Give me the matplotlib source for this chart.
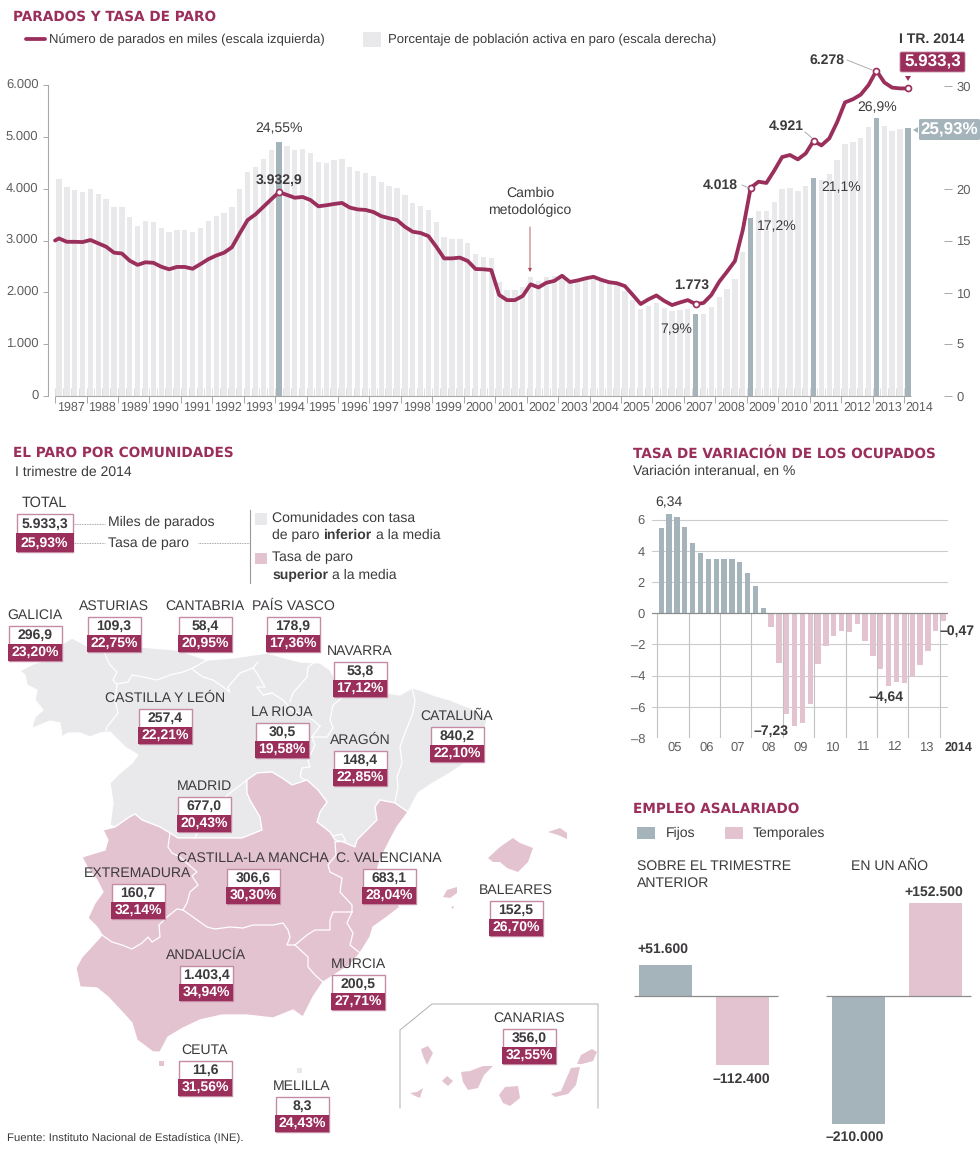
import matplotlib
matplotlib.use("Agg")
import matplotlib.pyplot as plt
from matplotlib.patches import Polygon, Rectangle, FancyBboxPatch
from matplotlib.transforms import ScaledTranslation

plt.rcParams['font.family'] = ['Liberation Sans', 'DejaVu Sans']
plt.rcParams['text.hinting'] = 'no_hinting'
plt.rcParams['text.hinting_factor'] = 8

# ---------- colours ----------
MAGENTA = '#9a2f5c'
PINK = '#e4c3d0'
GREY = '#e9e9eb'
SLATE = '#a5b4bb'
TEXT = '#3d3a3d'
TICK = '#5f5f5f'
RULE = '#a8a8a8'
TITLE_FONT = ['DejaVu Sans']

# ---------- data: paro trimestral 1987-I .. 2014-I ----------
tasa = [21.0, 20.2, 19.9, 19.7, 20.0, 19.6, 19.1, 18.3, 18.3, 17.3, 16.5, 16.9,
        16.8, 16.3, 15.9, 16.1, 16.1, 15.9, 16.3, 16.9, 17.4, 17.7, 18.3, 20.0,
        21.7, 22.2, 22.9, 23.8, 24.55, 24.2, 23.8, 23.9, 23.5, 22.7, 22.6, 22.8,
        22.9, 22.2, 21.8, 21.6, 21.3, 20.7, 20.3, 20.1, 19.5, 18.7, 18.4, 18.0,
        16.8, 15.4, 15.2, 15.2, 14.8, 13.7, 13.5, 13.4, 11.0, 10.3, 10.3, 10.6,
        11.5, 11.1, 11.5, 11.6, 11.7, 11.0, 11.1, 11.3, 11.5, 11.1, 10.9, 10.7,
        10.2, 9.3, 8.4, 8.7, 9.0, 8.5, 8.2, 8.3, 8.4, 7.9, 7.95, 8.6,
        9.6, 10.4, 11.3, 13.9, 17.2, 17.9, 17.9, 18.8, 20.0, 20.1, 19.8, 20.3,
        21.1, 20.9, 21.5, 22.8, 24.4, 24.6, 25.0, 26.0, 26.9, 26.1, 25.7, 25.8,
        25.93]
parados = [3040, 2975, 2975, 2970, 3010, 2945, 2880, 2765, 2750, 2610, 2530, 2580,
           2570, 2495, 2445, 2490, 2490, 2455, 2545, 2640, 2710, 2765, 2870, 3140,
           3395, 3505, 3650, 3795, 3932.9, 3880, 3825, 3840, 3780, 3660, 3680, 3705,
           3725, 3635, 3600, 3590, 3550, 3470, 3430, 3395, 3265, 3170, 3145, 3085,
           2880, 2655, 2655, 2670, 2605, 2450, 2445, 2430, 1950, 1850, 1850, 1930,
           2155, 2095, 2185, 2220, 2320, 2200, 2230, 2270, 2300, 2240, 2195, 2175,
           2120, 1950, 1775, 1865, 1940, 1835, 1755, 1805, 1850, 1773, 1795, 1950,
           2205, 2400, 2605, 3205, 4018, 4135, 4110, 4350, 4610, 4650, 4565, 4680,
           4921, 4835, 4970, 5285, 5665, 5725, 5815, 6000, 6278, 6050, 5950, 5935,
           5933.3]
destacados = [28, 81, 88, 96, 104, 108]
puntos = [28, 81, 88, 96, 104, 108]
years = [str(y) for y in range(1987, 2015)]
left_ticks = [0, 1000, 2000, 3000, 4000, 5000, 6000]
left_labels = ['0', '1.000', '2.000', '3.000', '4.000', '5.000', '6.000']
right_ticks = [0, 5, 10, 15, 20, 25, 30]
right_tick_labels = ['0', '5', '10', '15', '20', '', '30']

# ---------- data: ocupados ----------
variacion = [5.43, 6.34, 6.17, 5.5, 4.5, 3.83, 3.45, 3.5, 3.5, 3.47, 3.3, 2.6, 1.75, 0.34,
             -0.91, -3.2, -6.45, -7.23, -7.06, -5.79, -3.26, -2.09, -1.45, -1.11, -1.21,
             -0.68, -1.77, -2.77, -3.57, -4.64, -4.40, -4.47, -4.11, -3.34, -2.45, -1.17, -0.47]
var_years = ['05', '06', '07', '08', '09', '10', '11', '12', '13']
var_ticks = [-8, -6, -4, -2, 0, 2, 4, 6]
var_labels = ['–8', '–6', '–4', '–2', '0', '2', '4', '6']

# ---------- data: asalariados ----------
empleo_trim = [51600, -112400]
empleo_anual = [-210000, 152500]

# ---------- data: comunidades ----------
comunidades = ['GALICIA', 'ASTURIAS', 'CANTABRIA', 'PAÍS VASCO', 'NAVARRA', 'CASTILLA Y LEÓN',
               'LA RIOJA', 'ARAGÓN', 'CATALUÑA', 'MADRID', 'EXTREMADURA', 'CASTILLA-LA MANCHA',
               'C. VALENCIANA', 'BALEARES', 'MURCIA', 'ANDALUCÍA', 'CEUTA', 'MELILLA', 'CANARIAS']
miles = [296.9, 109.3, 58.4, 178.9, 53.8, 257.4, 30.5, 148.4, 840.2, 677.0, 160.7, 306.6,
         683.1, 152.5, 200.5, 1403.4, 11.6, 8.3, 356.0]
tasas = [23.20, 22.75, 20.95, 17.36, 17.12, 22.21, 19.58, 22.85, 22.10, 20.43, 32.14, 30.30,
         28.04, 26.70, 27.71, 34.94, 31.56, 24.43, 32.55]

# label placement in figure pixels (centre x, box top y)
box_x = [35, 114, 205, 293, 360, 165, 282, 360, 457, 204, 138, 253, 389, 516, 358, 206, 205, 302, 529]
box_y = [626, 617, 617, 617, 662, 709, 723, 751, 727, 797, 884, 869, 869, 901, 975, 966, 1061, 1097, 1029]

# ---------- map outlines (figure pixels) ----------
GREY_LAND = [(20,671),(33,664),(47,660),(62,644),(72,638),(85,645),(104,651),(140,647),(177,650),
    (207,660),(233,658),(267,653),(300,662),(320,663),(330,670),(336,680),(343,697),(353,695),(367,695),
    (387,693),(400,695),(412,688),(420,690),(433,695),(450,700),(470,708),(487,718),(484,735),(478,750),
    (465,763),(450,773),(433,783),(418,793),(408,812),(395,803),(380,800),(375,807),(377,820),(367,830),
    (357,840),(355,847),(343,842),(335,840),(330,832),(317,822),(320,812),(327,802),(318,790),(307,780),
    (292,785),(282,778),(272,772),(257,773),(247,780),(247,793),(250,800),(260,817),(262,830),(242,838),
    (178,838),(170,833),(160,827),(142,820),(135,814),(128,818),(115,827),(110,825),(113,803),(110,783),
    (120,773),(132,763),(138,755),(125,747),(110,732),(100,733),(90,737),(80,733),(68,733),(62,737),
    (60,723),(50,721),(33,728),(32,727),(35,717),(43,710),(35,700),(37,690),(27,685),(25,675)]
PINK_LAND = [(103,830),(115,827),(128,818),(135,814),(142,820),(160,827),(170,833),(178,838),(242,838),
    (262,830),(260,817),(250,800),(247,793),(247,780),(257,773),(272,772),(282,778),(292,785),(307,780),
    (318,790),(327,802),(320,812),(317,822),(330,832),(335,840),(343,842),(355,847),(357,840),(367,830),
    (377,820),(375,807),(380,800),(395,803),(408,812),(397,827),(390,840),(380,860),(375,878),(390,895),
    (400,907),(387,917),(373,927),(370,937),(360,953),(350,965),(323,982),(313,997),(303,1017),(293,1010),
    (273,1018),(247,1015),(222,1015),(200,1020),(183,1028),(168,1037),(160,1052),(153,1052),(137,1040),
    (132,1023),(123,1013),(108,997),(97,988),(80,987),(76,968),(82,957),(93,945),(102,935),(97,927),
    (88,918),(95,903),(103,892),(97,880),(87,867),(82,857),(105,850),(108,840)]
BORDERS = [
    [(104,652),(110,665),(117,672),(113,680),(117,685),(115,700),(118,713),(107,727),(106,731)],
    [(117,684),(128,682),(132,675),(143,677),(157,680),(170,675),(183,672),(193,668)],
    [(193,668),(200,664),(207,660)],
    [(193,670),(203,677),(213,680),(223,687),(230,692),(228,687),(240,673),(253,668),(258,662)],
    [(253,668),(258,675),(265,687),(257,687),(263,695),(272,693)],
    [(263,695),(272,693),(283,700),(292,710),(313,720),(320,726)],
    [(315,662),(308,667),(307,677),(293,693),(290,702)],
    [(343,697),(333,705),(330,720),(333,728),(327,737),(312,737)],
    [(320,726),(312,737),(315,745),(308,760),(310,767),(302,768),(300,777),(305,780)],
    [(412,688),(415,700),(413,713),(405,733),(400,747),(402,763),(397,777),(398,787),(395,802)],
    [(247,780),(230,793),(205,815),(195,838)],
    [(170,833),(168,847),(172,853),(180,857),(197,872),(192,876),(198,885),(190,892),(187,903),(183,910)],
    [(183,910),(177,909),(167,917),(159,925),(160,937),(152,942),(148,937),(142,943),(132,949),(122,945),(112,942),(102,935)],
    [(183,910),(193,917),(207,927),(215,929),(230,927),(243,928),(253,925),(273,925),(283,923),(288,930),(290,937),(287,945),(295,945)],
    [(295,945),(308,957),(308,967),(315,975),(323,982)],
    [(295,945),(307,935),(315,930),(330,930),(330,920),(333,912),(352,912)],
    [(352,912),(347,923),(353,933),(350,945),(360,953)],
    [(352,912),(352,905),(340,892),(342,878),(330,872),(328,865),(336,855),(335,842)],
    [(333,836),(342,834),(346,841),(335,842)],
]
ISLANDS = [
    [(488,858),(500,847),(513,838),(520,843),(533,848),(528,862),(518,872),(507,868),(500,862),(493,862)],
    [(548,832),(560,828),(567,833),(567,839),(558,835)],
    [(443,897),(447,890),(457,887),(457,893),(450,898)],
    [(451,907),(454,906),(453,909)],
    [(421,1049),(428,1046),(433,1053),(427,1065),(423,1056)],
    [(442,1081),(447,1076),(453,1081),(448,1086)],
    [(410,1093),(417,1092),(423,1088),(420,1098),(415,1096)],
    [(461,1072),(470,1071),(483,1066),(493,1066),(484,1075),(478,1088),(468,1090),(463,1082)],
    [(499,1095),(505,1087),(518,1086),(520,1098),(510,1106),(503,1103)],
    [(551,1094),(561,1091),(567,1077),(571,1068),(580,1067),(576,1085),(568,1094),(555,1097)],
    [(577,1064),(581,1055),(592,1049),(597,1052),(593,1061),(582,1064)],
]
INSET_FRAME = [(400,1108),(400,1030),(432,1004),(598,1004),(598,1108)]
CEUTA_SQ = (158.5, 1060.5, 5, 5)
MELILLA_SQ = (296.5, 1067.5, 5, 5)

W, H = 980, 1149
fig = plt.figure(figsize=(W/100, H/100), dpi=100, facecolor='white')


def axes_px(x0, y0, x1, y1, **kw):
    return fig.add_axes([x0/W, 1-y1/H, (x1-x0)/W, (y1-y0)/H], **kw)


def px(v):
    return v*0.72


def es(v, d=1):
    return f"{v:,.{d}f}".replace(',', '#').replace('.', ',').replace('#', '.')


# ================= main chart =================
X0, STEP = 59, 7.86
ax2 = axes_px(47.5, 40, 944, 396)
ax = ax2.twinx()
ax.set_zorder(ax2.get_zorder()+1)
ax.patch.set_visible(False)
xlim = ((47.5-X0)/STEP, (944-X0)/STEP)
idx = list(range(len(tasa)))
colors = [SLATE if i in destacados else GREY for i in idx]
ax2.bar(idx, tasa, width=0.68, color=colors, linewidth=0, zorder=2)
ax2.set_xlim(xlim)
ax2.set_ylim(0, (396-40)/10.33)
ax.set_ylim(0, (396-40)/51.83*1000)
ax.set_xlim(xlim)
ax.plot([-0.5]+idx, [parados[0]-40]+parados, color=MAGENTA, lw=px(3.8), solid_joinstyle='round', solid_capstyle='round', zorder=4)
ax.plot([idx[i] for i in puntos], [parados[i] for i in puntos], ls='none', marker='o', ms=px(6), mfc='white', mec=MAGENTA, mew=px(1.7), zorder=5)

for s in ax.spines.values():
    s.set_visible(False)
for s in ax2.spines.values():
    s.set_visible(False)
ax.yaxis.tick_left()
ax.spines['left'].set_visible(True)
ax.spines['left'].set_bounds(0, 6000)
ax.spines['left'].set_color(RULE)
ax.spines['left'].set_linewidth(0.8)
ax.set_yticks(left_ticks, left_labels, fontsize=px(13), color=TICK)
ax.tick_params(axis='y', length=px(5), width=0.7, color=RULE, pad=px(4))
ax.set_xticks([])
off = ScaledTranslation(0, 2*0.72/72, fig.dpi_scale_trans)
for lab in ax.get_yticklabels():
    lab.set_transform(lab.get_transform()+off)

ax2.yaxis.tick_right()
ax2.set_yticks(right_ticks, right_tick_labels, fontsize=px(13), color=TICK)
ax2.tick_params(axis='y', length=px(8), width=0.7, color=RULE, pad=px(4))
major = [-0.5+4*k for k in range(len(years))]
ax2.set_xticks(major, ['']*len(major))
ax2.set_xticks([m+2 for m in major], years, minor=True, fontsize=px(12.5), color=TICK)
ax2.tick_params(axis='x', which='major', length=px(7), width=0.7, color=RULE, pad=0)
ax2.tick_params(axis='x', which='minor', length=0, pad=px(5))
ax2.hlines(0, -0.5, 108.4, color=RULE, lw=0.8, zorder=3, clip_on=False)
ax2.vlines([i+0.5 for i in range(-1, 108)], 0, 8/10.33, color='#cfcfcf', lw=0.5, zorder=1)

# ================= overlay in pixel coordinates =================
ov = axes_px(0, 0, W, H)
ov.set_xlim(0, W)
ov.set_ylim(H, 0)
ov.axis('off')
ov.patch.set_visible(False)
ov.set_zorder(10)


def T(x, y, s, size=14, weight='normal', color=TEXT, ha='left', va='center', **kw):
    return ov.text(x, y, s, fontsize=px(size), fontweight=weight, color=color, ha=ha, va=va, **kw)


def title(x, y, s):
    T(x, y+0.7, s, size=13.65, weight='bold', color=MAGENTA, family=TITLE_FONT)


def rect(x0, y0, x1, y1, fc, ec='none', lw=0, z=2):
    ov.add_patch(Rectangle((x0, y0), x1-x0, y1-y0, fc=fc, ec=ec, lw=lw, zorder=z))


title(13, 16, 'PARADOS Y TASA DE PARO')
ov.plot([26, 45], [39, 39], color=MAGENTA, lw=px(3.8), solid_capstyle='round')
T(49, 39.5, 'Número de parados en miles (escala izquierda)', size=13.15)
rect(363, 32, 381, 47, GREY)
T(388, 39.5, 'Porcentaje de población activa en paro (escala derecha)', size=13.15)

for x, y, s, w in [(279, 129, '24,55%', 'normal'), (279, 180, '3.932,9', 'bold'), (676, 330, '7,9%', 'normal'),
                   (692, 285, '1.773', 'bold'), (720, 185, '4.018', 'bold'), (777, 227, '17,2%', 'normal'),
                   (786, 126, '4.921', 'bold'), (841, 188, '21,1%', 'normal'), (827, 60, '6.278', 'bold'),
                   (877, 108, '26,9%', 'normal')]:
    T(x, y, s, size=14, weight=w, ha='center')
for a, b in [((847, 60), (872, 70)), ((805, 132), (812, 138)), ((742, 185), (749, 188))]:
    ov.plot([a[0], b[0]], [a[1], b[1]], color='#a0a0a0', lw=0.6)
T(530, 193, 'Cambio', ha='center')
T(530, 210, 'metodológico', ha='center')
ov.annotate('', xy=(530, 272), xytext=(530, 227),
            arrowprops=dict(arrowstyle='-|>,head_length=0.2,head_width=0.1', color='#a8464f', lw=0.6, shrinkA=0, shrinkB=0))
T(932, 39, 'I TR. 2014', weight='bold', ha='center')
ov.add_patch(FancyBboxPatch((900, 52), 65, 20, boxstyle='round,pad=0,rounding_size=1.5', fc=MAGENTA, ec='#c58ba5', lw=0.6))
T(932.5, 62, '5.933,3', size=17, weight='bold', color='white', ha='center')
ov.add_patch(Polygon([(905, 76), (911, 76), (908, 81)], fc=MAGENTA, ec='none'))
ov.add_patch(FancyBboxPatch((919, 119), 61, 21, boxstyle='round,pad=0,rounding_size=1.5', fc=SLATE, ec='none'))
T(949.5, 129.5, '25,93%', size=17, weight='bold', color='white', ha='center')
ov.add_patch(Polygon([(913, 130), (918, 127), (918, 133)], fc=SLATE, ec='none'))

# ================= map =================
title(13, 452, 'EL PARO POR COMUNIDADES')
T(15, 472, 'I trimestre de 2014')
T(22, 503, 'TOTAL', size=14.5)


def box(cx, top, a, b):
    w = 53
    h = 35
    rect(cx-w/2, top, cx+w/2, top+h, 'white', ec='#c58ba5', lw=1.0, z=6)
    rect(cx-w/2-0.4, top+17.5, cx+w/2+0.4, top+h+0.4, MAGENTA, z=7)
    T(cx, top+9, a, size=14, weight='bold', ha='center', zorder=8)
    T(cx, top+26.5, b, size=14, weight='bold', color='white', ha='center', zorder=8)


rect(16.5, 514, 73, 552, 'white', ec='#c58ba5', lw=1.0, z=6)
rect(16, 533, 73.5, 552.4, MAGENTA, z=7)
T(44.5, 524, '5.933,3', weight='bold', ha='center', zorder=8)
T(44.5, 543, '25,93%', weight='bold', color='white', ha='center', zorder=8)
ov.plot([73, 105], [524, 524], color='#888888', lw=0.6, ls=(0, (1, 1)))
ov.plot([73, 105], [543, 543], color='#888888', lw=0.6, ls=(0, (1, 1)))
ov.plot([198, 249], [543, 543], color='#888888', lw=0.6, ls=(0, (1, 1)))
ov.plot([249.5, 249.5], [510, 583], color='#999999', lw=0.8)
T(108, 522, 'Miles de parados')
T(108, 543, 'Tasa de paro')
rect(255, 513, 267, 525, GREY)
rect(255, 553, 267, 564, PINK)
T(272, 518, 'Comunidades con tasa')
T(272, 535.5, 'de paro')
T(323, 535.5, 'inferior', weight='bold')
T(376, 535.5, 'a la media')
T(272, 557, 'Tasa de paro')
T(272, 575, 'superior', weight='bold')
T(332, 575, 'a la media')

ov.add_patch(Polygon(GREY_LAND, fc=GREY, ec='white', lw=0.9, zorder=1))
ov.add_patch(Polygon(PINK_LAND, fc=PINK, ec='white', lw=0.9, zorder=1))
for b in BORDERS:
    ov.plot([p[0] for p in b], [p[1] for p in b], color='white', lw=0.9, zorder=1.5, solid_joinstyle='round')
for isl in ISLANDS:
    ov.add_patch(Polygon(isl, fc=PINK, ec='none', zorder=1))
rect(CEUTA_SQ[0], CEUTA_SQ[1], CEUTA_SQ[0]+CEUTA_SQ[2], CEUTA_SQ[1]+CEUTA_SQ[3], PINK, z=1)
rect(MELILLA_SQ[0], MELILLA_SQ[1], MELILLA_SQ[0]+MELILLA_SQ[2], MELILLA_SQ[1]+MELILLA_SQ[3], GREY, z=1)
ov.plot([p[0] for p in INSET_FRAME], [p[1] for p in INSET_FRAME], color='#b0b0b0', lw=0.7)

for name, m, t, cx, top in zip(comunidades, miles, tasas, box_x, box_y):
    T(cx, top-10.5, name, ha='center', zorder=5)
    box(cx, top, es(m, 1), es(t, 2)+'%')

T(7, 1138, 'Fuente: Instituto Nacional de Estadística (INE).', size=11.35)

# ================= variation chart =================
VX0, VSTEP = 661.3, 7.84
vax = axes_px(652, 500, 948, 738)
vax.set_xlim((652-VX0)/VSTEP, (948-VX0)/VSTEP)
vax.set_ylim(-8, (738-500)/15.6-8)
vi = list(range(len(variacion)))
for y in var_ticks:
    if y != 0:
        vax.axhline(y, color='#cccccc', lw=0.8, zorder=1)
vtick = [-0.5+4*k for k in range(10)]
vax.vlines(vtick, -8, 0, color='#c2c2c2', lw=0.8, zorder=1)
vax.bar(vi, variacion, width=0.68, color=[SLATE if v > 0 else PINK for v in variacion], linewidth=0, zorder=2)
vax.axhline(0, color='#8c8c8c', lw=0.9, zorder=3)
for s in vax.spines.values():
    s.set_visible(False)
vax.patch.set_visible(False)
vax.set_yticks(var_ticks, var_labels, fontsize=px(13), color=TICK)
vax.tick_params(axis='y', length=0, pad=px(7))
vax.set_xticks([t+2.25 for t in vtick[:9]], var_years, fontsize=px(13), color=TICK)
vax.tick_params(axis='x', length=0, pad=px(3))
title(633, 453, 'TASA DE VARIACIÓN DE LOS OCUPADOS')
T(633, 472, 'Variación interanual, en %')
T(669, 503, '6,34', ha='center')
T(771, 731, '–7,23', weight='bold', ha='center')
T(886, 697, '–4,64', weight='bold', ha='center')
T(957.5, 631, '–0,47', weight='bold', ha='center')
T(958, 748, '2014', size=12.5, weight='bold', ha='center')

# ================= employment chart =================
SCALE = 0.61/1000
eax = axes_px(620, 890, 980, 1130)
eax.set_xlim(620, 980)
eax.set_ylim(-(1130-996)/SCALE, (996-890)/SCALE)
eax.axis('off')
eax.patch.set_visible(False)
eax.bar([665.5, 742.5], empleo_trim, width=53, color=[SLATE, PINK], linewidth=0, zorder=2)
eax.bar([858.5, 935], empleo_anual, width=53, color=[SLATE, PINK], linewidth=0, zorder=2)
eax.hlines(0, 634, 778, color='#8c8c8c', lw=0.9, zorder=3)
eax.hlines(0, 826, 971, color='#8c8c8c', lw=0.9, zorder=3)
title(633, 808, 'EMPLEO ASALARIADO')
rect(637, 827, 655, 839, SLATE)
T(666, 833, 'Fijos')
rect(725, 827, 743, 839, PINK)
T(753, 833, 'Temporales')
T(637, 866, 'SOBRE EL TRIMESTRE')
T(637, 883, 'ANTERIOR')
T(851, 866, 'EN UN AÑO')
T(663, 949, '+51.600', weight='bold', ha='center')
T(741, 1079, '–112.400', weight='bold', ha='center')
T(934, 892, '+152.500', weight='bold', ha='center')
T(855, 1137, '–210.000', weight='bold', ha='center')

fig.savefig('out.png', dpi=100, facecolor='white')
